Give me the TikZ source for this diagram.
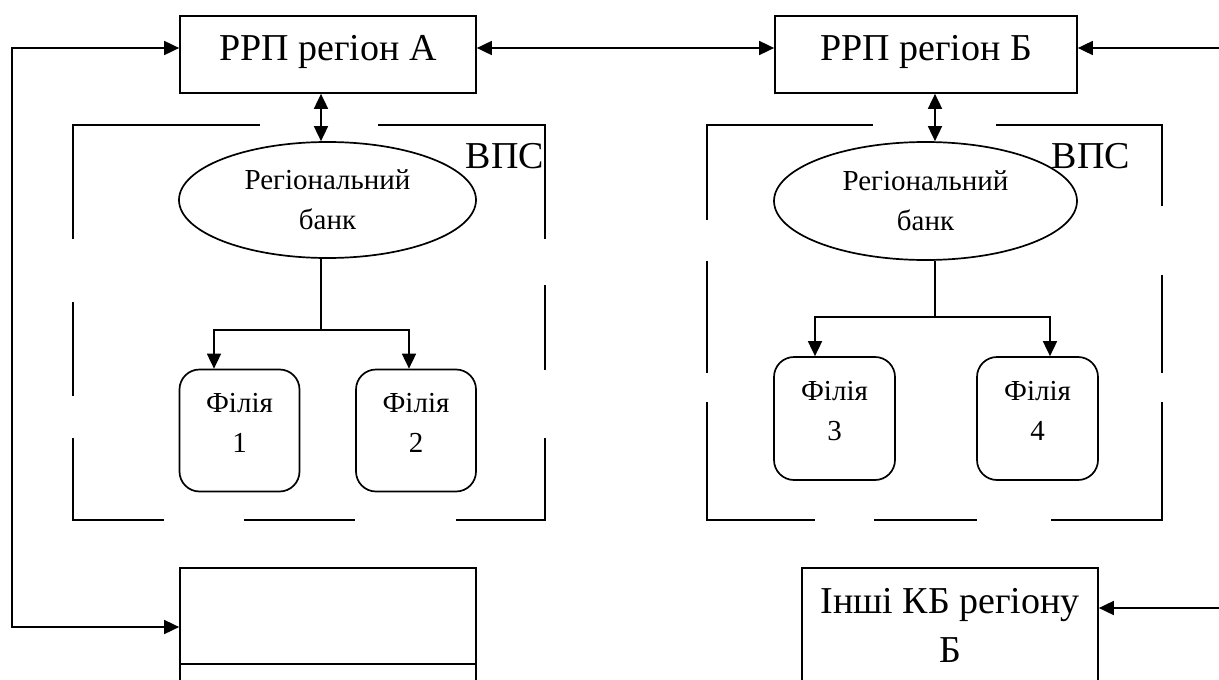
\documentclass[tikz,border=0pt]{standalone}
\usepackage{fontspec}
\setmainfont{Liberation Serif}
\usetikzlibrary{arrows.meta, shapes.geometric}
\newcommand{\lowstrut}{\rule[-15pt]{0pt}{15pt}}

\begin{document}
\begin{tikzpicture}[
  x=1pt, y=-1pt, line width=1.7pt, >={Triangle[length=15pt,width=14pt]},
  big/.style  ={font={\fontsize{38}{49}\selectfont}},
  small/.style={font={\fontsize{29}{40}\selectfont}},
  rrp/.style  ={draw, big, minimum width=296pt, minimum height=77pt, inner sep=0pt, text height=25pt, text depth=14pt},
  bank/.style ={draw, ellipse, small, align=center, inner sep=0pt},
  fil/.style  ={draw, rounded corners=20pt, small, align=center, minimum width=120pt, minimum height=122pt, inner sep=0pt},
  kb/.style   ={draw, big, align=center, minimum width=296pt, inner sep=0pt},
  frame/.style={line width=1.7pt}]
\useasboundingbox (0,0) rectangle (1219,680);
% region A
\node[rrp] (rrpA) at (328,54.5) {РРП регіон А};
\node[bank, minimum width=297pt, minimum height=116pt] (bankA) at (327.5,200) {Регіональний\\банк};
\node[fil] (fil1) at (239.5,430.5) {Філія\\1\lowstrut};
\node[fil] (fil2) at (416,430.5) {Філія\\2\lowstrut};
\node[big, anchor=base] (vpsA) at (505,168) {ВПС};
\node[kb, minimum height=96pt] (kbA) at (328,616) {};
\node[kb, minimum height=96pt] (kbA2) at (328,712) {};
% region B
\node[rrp, minimum width=302pt] (rrpB) at (926,54.5) {РРП регіон Б};
\node[bank, minimum width=303pt, minimum height=118pt] (bankB) at (925.5,201) {Регіональний\\банк};
\node[fil, minimum width=121pt, minimum height=123pt] (fil3) at (834.5,418.5) {Філія\\3\lowstrut};
\node[fil, minimum width=121pt, minimum height=123pt] (fil4) at (1037.5,418.5) {Філія\\4\lowstrut};
\node[big, anchor=base] (vpsB) at (1091,168) {ВПС};
\node[kb, minimum height=114pt] (kbB) at (950,625) {Інші КБ регіону\\Б};
% bend points
\coordinate (lt) at (12,48);   \coordinate (lb) at (12,627);
\coordinate (rt) at (1219,48); \coordinate (rb) at (1219,608);
\coordinate (ta) at (321,330); \coordinate (tb) at (935,317);
% connectors
\draw[<->] (rrpA.west |- lt) -- (lt) -- (lb) -- (kbA.west |- lb);
\draw[<->] (rrpA.east |- lt) -- (rrpB.west |- lt);
\draw[->] (rt) -- (rrpB.east |- rt);
\draw[->] (rb) -- (kbB.east |- rb);
\draw[<->] (rrpA.south -| ta) -- (bankA.north -| ta);
\draw (bankA.south -| ta) -- (ta);
\draw[->] (ta) -| ([xshift=-25.5pt]fil1.north);
\draw[->] (ta) -| ([xshift=-7pt]fil2.north);
\draw[<->] (rrpB.south -| tb) -- (bankB.north -| tb);
\draw (bankB.south -| tb) -- (tb);
\draw[->] (tb) -| ([xshift=-19.5pt]fil3.north);
\draw[->] (tb) -| ([xshift=12.5pt]fil4.north);
% dashed frames
\draw[frame] (73,239) -- (73,125) -- (260,125);
\draw[frame] (378,125) -- (545,125) -- (545,239);
\draw[frame] (73,302) -- (73,396);
\draw[frame] (545,285) -- (545,370);
\draw[frame] (73,438) -- (73,520) -- (164,520);
\draw[frame] (244,520) -- (355,520);
\draw[frame] (456,520) -- (545,520) -- (545,438);
\draw[frame] (707,220) -- (707,125) -- (873,125);
\draw[frame] (996,125) -- (1162,125) -- (1162,206);
\draw[frame] (707,261) -- (707,373);
\draw[frame] (1162,275) -- (1162,373);
\draw[frame] (707,402) -- (707,520) -- (815,520);
\draw[frame] (874,520) -- (977,520);
\draw[frame] (1051,520) -- (1162,520) -- (1162,402);
\end{tikzpicture}
\end{document}
